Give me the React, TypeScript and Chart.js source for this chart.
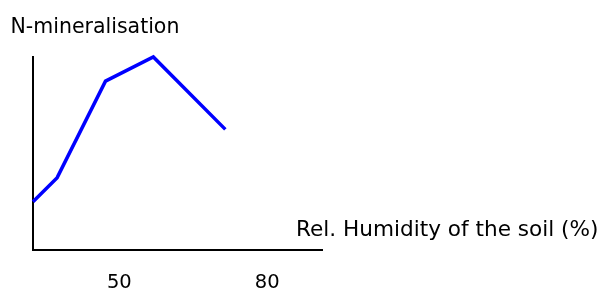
import React, { useEffect, useRef } from "react";
import { Chart, registerables } from "chart.js";

Chart.register(...registerables);

const humidity = [32.5, 37.4, 47.2, 56.9, 71.5];
const mineralisation = [25, 37.5, 87.5, 100, 62.5];
const tickValues = [50, 80];
const yTitle = "N-mineralisation";
const xTitle = "Rel. Humidity of the soil (%)";

const FONT = '"DejaVu Sans", Verdana, sans-serif';

export default function App() {
  const ref = useRef<HTMLCanvasElement | null>(null);

  useEffect(() => {
    if (!ref.current) return;
    const labelsPlugin = {
      id: "axisTexts",
      afterDraw(chart: any) {
        const ctx = chart.ctx;
        ctx.save();
        ctx.fillStyle = "#000";
        ctx.textBaseline = "alphabetic";
        ctx.textAlign = "left";
        ctx.font = `20.5px ${FONT}`;
        ctx.fillText(yTitle, 10.5, 33);
        ctx.font = `21.6px ${FONT}`;
        ctx.fillText(xTitle, 296, 236);
        ctx.restore();
      },
    };
    const chart = new Chart(ref.current, {
      type: "line",
      data: {
        datasets: [
          {
            data: humidity.map((x, i) => ({ x, y: mineralisation[i] })),
            borderColor: "#0000ff",
            borderWidth: 3.5,
            pointRadius: 0,
            tension: 0,
            clip: false as any,
          },
        ],
      },
      options: {
        animation: false,
        responsive: false,
        devicePixelRatio: 1,
        layout: { padding: { top: 57, right: 281, left: 0, bottom: 0 } },
        plugins: { legend: { display: false }, tooltip: { enabled: false }, title: { display: false } },
        scales: {
          x: {
            type: "linear",
            min: 32.5,
            max: 91.1,
            grid: { display: false, drawTicks: false },
            border: { display: true, color: "#000", width: 2 },
            afterBuildTicks: (s: any) => {
              s.ticks = tickValues.map((v) => ({ value: v }));
            },
            afterFit: (s: any) => {
              s.height = 45;
            },
            ticks: {
              color: "#000",
              font: { family: FONT, size: 19.5 },
              padding: 21,
              maxRotation: 0,
              autoSkip: false,
            },
          },
          y: {
            min: 0,
            max: 100,
            grid: { display: false, drawTicks: false },
            border: { display: true, color: "#000", width: 2 },
            ticks: { display: false },
            afterFit: (s: any) => {
              s.width = 33;
            },
          },
        },
      },
      plugins: [labelsPlugin],
    });
    return () => chart.destroy();
  }, []);

  return (
    <div style={{ position: "fixed", left: 0, top: 0, width: 603, height: 295, background: "#fff" }}>
      <canvas ref={ref} width={603} height={295} style={{ width: 603, height: 295 }} />
    </div>
  );
}
